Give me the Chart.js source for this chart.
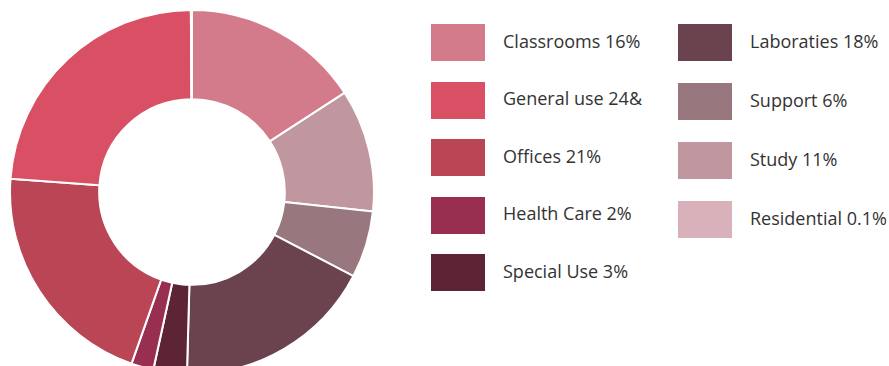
<!DOCTYPE html>
<html>
<head>
<meta charset="utf-8">
<script src="https://cdn.jsdelivr.net/npm/chart.js@4.4.1/dist/chart.umd.min.js"></script>
<style>
    html, body {
        margin: 0;
        padding: 0;
        width: 889px;
        height: 366px;
        overflow: hidden;
        background: #fff;
        font-family: "Open Sans", "Noto Sans", sans-serif;
    }
    #wrap {
        position: absolute;
        left: 9px;
        top: 9px;
        width: 366px;
        height: 366px;
    }
    .legend-item {
        position: absolute;
        display: flex;
        align-items: center;
        font-size: 18px;
        color: #333;
        white-space: nowrap;
    }
    .legend-item .swatch {
        width: 54px;
        height: 37px;
        margin-right: 18px;
    }
    .legend-item span {
        position: relative;
        top: -2px;
    }
</style>
</head>
<body>
<div id="wrap"><canvas id="spaceChart" width="366" height="366"></canvas></div>
<div id="legend"></div>

<script>
// space use by category, clockwise from 12 o'clock
const categories = ['Classrooms', 'Study', 'Support', 'Laboraties', 'Special Use', 'Health Care', 'Offices', 'General use', 'Residential'];
const shares = [16, 11, 6, 18, 3, 2, 21, 24, 0.1];
const colors = ['#d47b8b', '#c0979e', '#98777e', '#6b434f', '#5c2435', '#992f50', '#b94555', '#d94f63', '#d9b1bb'];

// legend text, two columns
const legendLeft = ['Classrooms 16%', 'General use 24&', 'Offices 21%', 'Health Care 2%', 'Special Use 3%'];
const legendLeftIdx = [0, 7, 6, 5, 4];
const legendRight = ['Laboraties 18%', 'Support 6%', 'Study 11%', 'Residential 0.1%'];
const legendRightIdx = [3, 2, 1, 8];

document.addEventListener('DOMContentLoaded', function () {
    const legend = document.getElementById('legend');

    function addColumn(texts, idx, x, y0, step) {
        texts.forEach(function (t, i) {
            const item = document.createElement('div');
            item.className = 'legend-item';
            item.style.left = x + 'px';
            item.style.top = (y0 + i * step) + 'px';
            const sw = document.createElement('div');
            sw.className = 'swatch';
            sw.style.background = colors[idx[i]];
            const label = document.createElement('span');
            label.textContent = t;
            item.appendChild(sw);
            item.appendChild(label);
            legend.appendChild(item);
        });
    }
    addColumn(legendLeft, legendLeftIdx, 431, 24, 57.5);
    addColumn(legendRight, legendRightIdx, 678, 24, 59);

    const ctx = document.getElementById('spaceChart').getContext('2d');
    new Chart(ctx, {
        type: 'doughnut',
        data: {
            labels: categories,
            datasets: [{
                data: shares,
                backgroundColor: colors,
                borderColor: '#ffffff',
                borderWidth: 2
            }]
        },
        options: {
            responsive: false,
            animation: false,
            cutout: '51%',
            layout: { padding: 0 },
            plugins: {
                legend: { display: false },
                tooltip: { enabled: false }
            }
        }
    });
});
</script>
</body>
</html>
